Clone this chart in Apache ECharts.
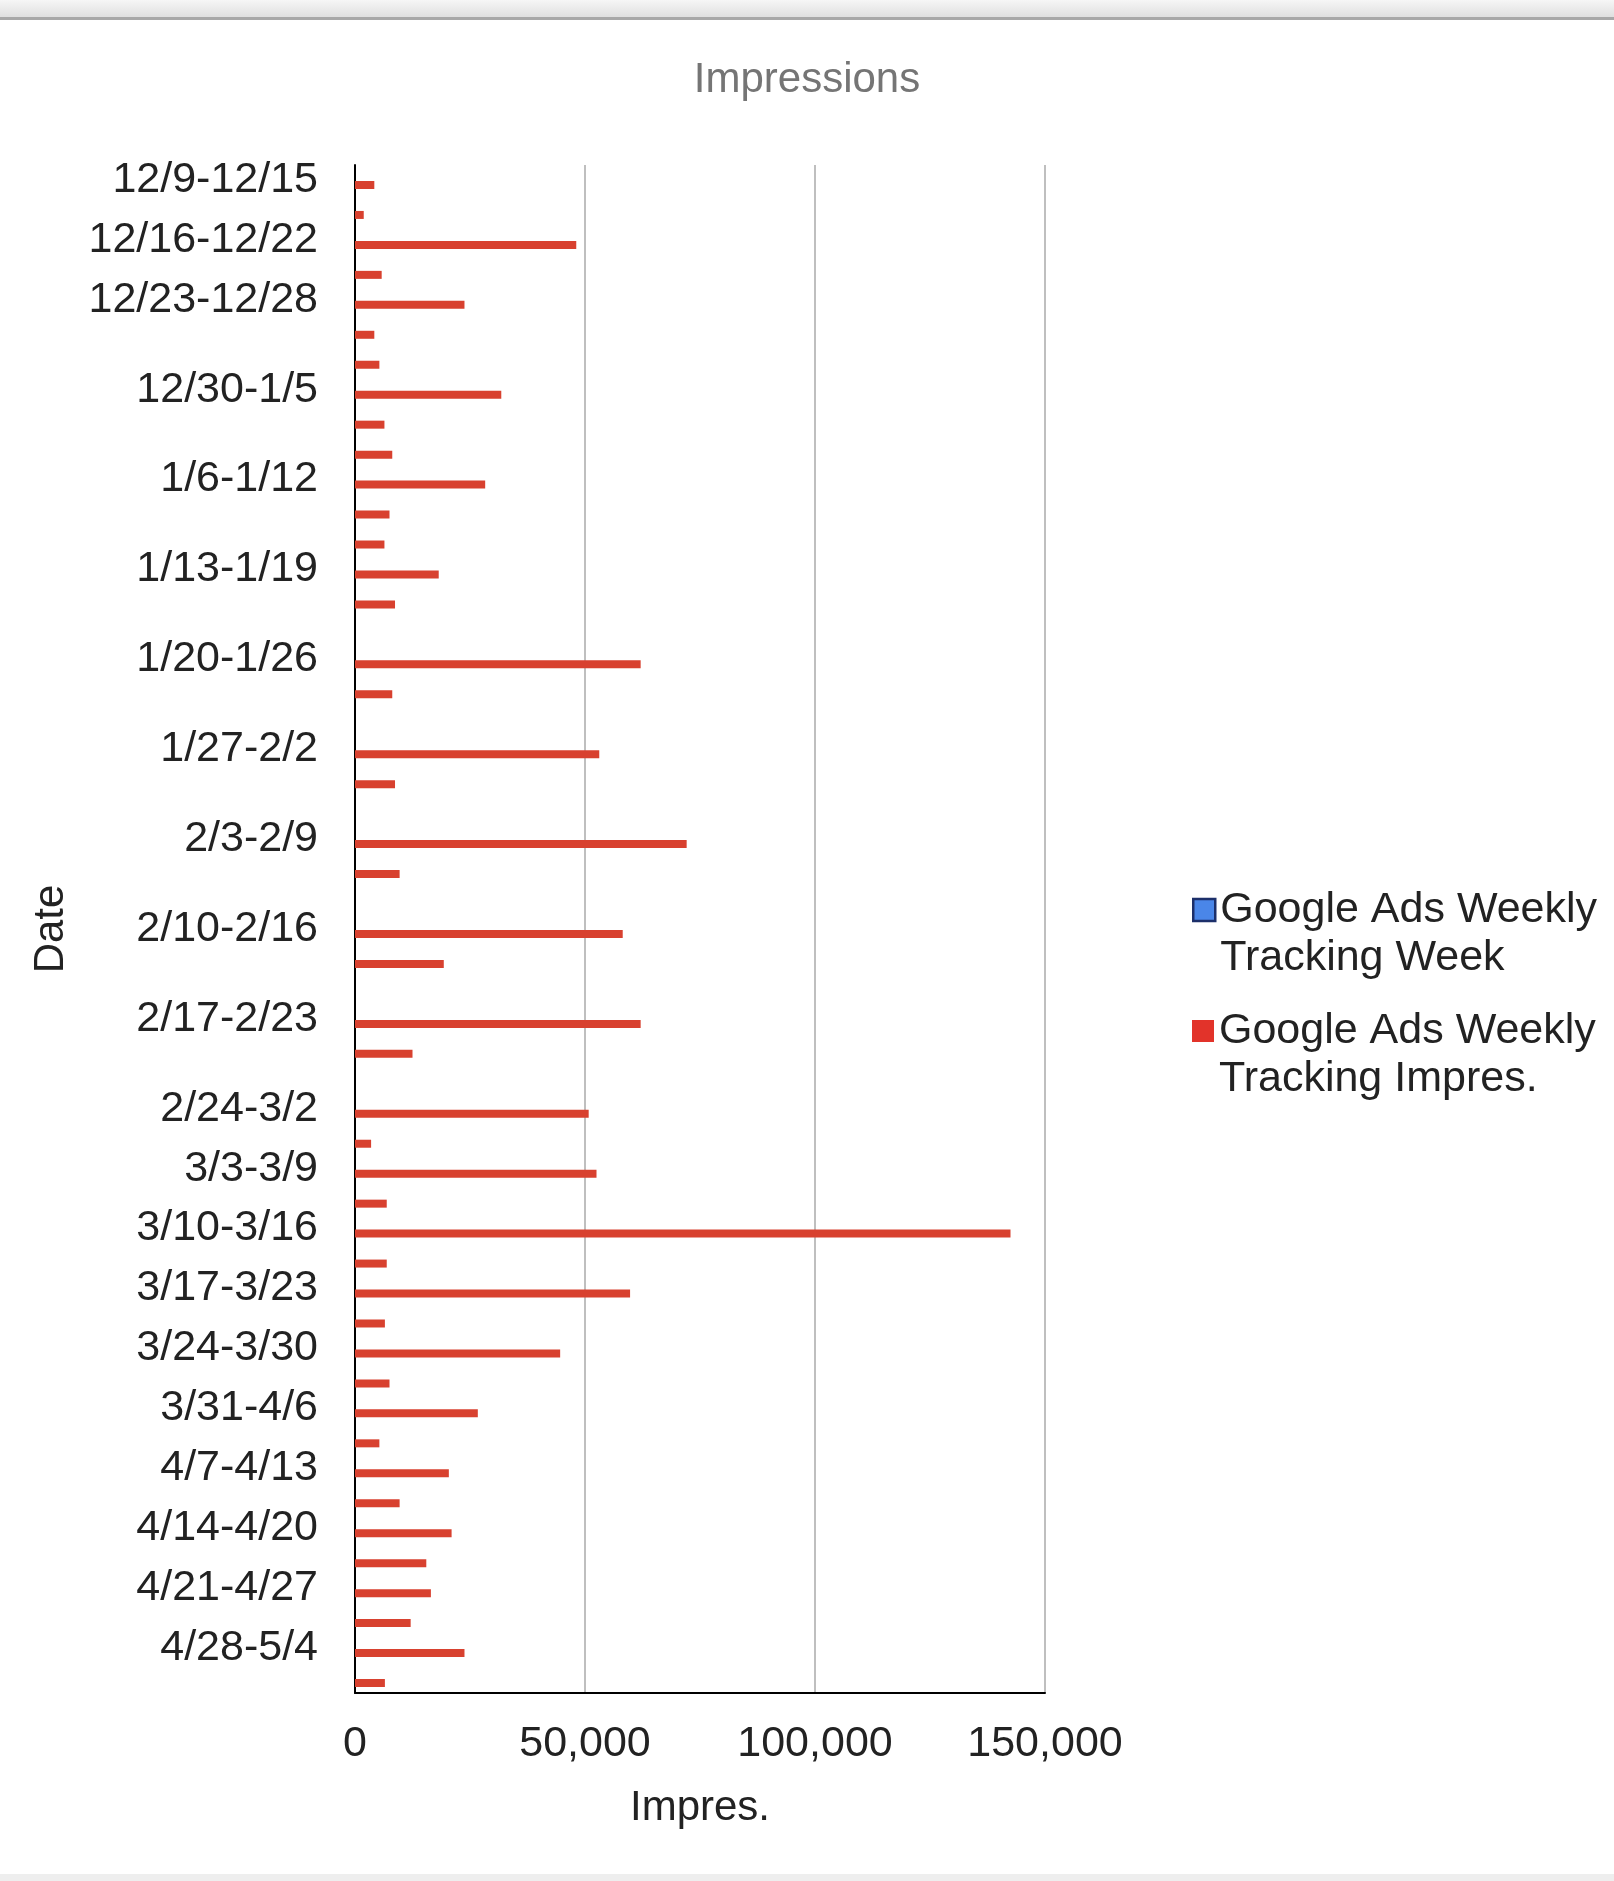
<!DOCTYPE html>
<html>
<head>
<meta charset="utf-8">
<script src="https://cdn.jsdelivr.net/npm/echarts@6/dist/echarts.min.js"></script>
<style>
  html, body { margin: 0; padding: 0; background: #ffffff; }
  #chart { width: 1614px; height: 1881px; }
</style>
</head>
<body>
<div id="chart"></div>
<script>
// ---- data ----
const slotLabels = [
  '12/9-12/15', '', '12/16-12/22', '', '12/23-12/28', '', '', '12/30-1/5', '', '',
  '1/6-1/12', '', '', '1/13-1/19', '', '', '1/20-1/26', '', '', '1/27-2/2',
  '', '', '2/3-2/9', '', '', '2/10-2/16', '', '', '2/17-2/23', '',
  '', '2/24-3/2', '', '3/3-3/9', '', '3/10-3/16', '', '3/17-3/23', '', '3/24-3/30',
  '', '3/31-4/6', '', '4/7-4/13', '', '4/14-4/20', '', '4/21-4/27', '', '4/28-5/4',
  ''
];
const weekValues = slotLabels.map(() => null);
const impresValues = [
  4200, 1900, 48100, 5800, 23800, 4200, 5300, 31800, 6400, 8100,
  28300, 7500, 6400, 18200, 8700, null, 62100, 8100, null, 53100,
  8700, null, 72100, 9700, null, 58200, 19300, null, 62100, 12500,
  null, 50800, 3500, 52500, 6900, 142500, 6900, 59800, 6500, 44600,
  7500, 26700, 5300, 20400, 9700, 21000, 15500, 16500, 12100, 23800,
  6500
];
const xTicks = [0, 50000, 100000, 150000];
const seriesNames = ['Google Ads Weekly Tracking Week', 'Google Ads Weekly Tracking Impres.'];
const legendLines = {
  'Google Ads Weekly Tracking Week': 'Google Ads Weekly\nTracking Week',
  'Google Ads Weekly Tracking Impres.': 'Google Ads Weekly\nTracking Impres.'
};

// ---- style ----
const FONT = '"Liberation Sans", Arial, sans-serif';
const BLUE = '#4a86e8';
const RED = '#d8412f';
const TEXT = '#222222';

const chart = echarts.init(document.getElementById('chart'), null, { renderer: 'canvas' });

function legendFor(name, color, border, center) {
  const LH = 48;
  return {
    data: [{
      name: name, icon: 'rect',
      itemStyle: { color: color, borderColor: border || color, borderWidth: border ? 2.5 : 0 }
    }],
    orient: 'vertical',
    left: 1192,
    top: center - 1.5 * LH,
    padding: 0,
    itemWidth: 22,
    itemHeight: 22,
    selectedMode: false,
    // a leading empty line puts the first text line level with the icon
    formatter: n => '\n' + (legendLines[n] || n),
    textStyle: { fontFamily: FONT, fontSize: 43, lineHeight: LH, color: TEXT }
  };
}

const option = {
  backgroundColor: '#ffffff',
  animation: false,
  title: {
    text: 'Impressions',
    left: 'center',
    top: 54,
    textStyle: { fontFamily: FONT, fontSize: 42, fontWeight: 'normal', color: '#757575' }
  },
  legend: [
    legendFor(seriesNames[0], BLUE, '#1c2f6a', 910),
    legendFor(seriesNames[1], '#e2332a', null, 1031)
  ],
  grid: { left: 355, right: 569, top: 165, bottom: 188, containLabel: false },
  xAxis: {
    type: 'value',
    min: xTicks[0],
    max: xTicks[xTicks.length - 1],
    interval: xTicks[1] - xTicks[0],
    name: 'Impres.',
    nameLocation: 'middle',
    nameGap: 94,
    nameTextStyle: { fontFamily: FONT, fontSize: 42, color: TEXT },
    axisLine: { show: true, lineStyle: { color: '#000000', width: 2 } },
    axisTick: { show: false },
    axisLabel: {
      fontFamily: FONT, fontSize: 43, color: TEXT, margin: 30,
      formatter: v => Number(v).toLocaleString('en-US')
    },
    splitLine: { show: true, lineStyle: { color: '#aaaaaa', width: 1.5 } }
  },
  yAxis: {
    type: 'category',
    inverse: true,
    data: slotLabels,
    name: 'Date',
    nameLocation: 'middle',
    nameGap: 283,
    nameRotate: 90,
    nameTextStyle: { fontFamily: FONT, fontSize: 42, color: TEXT },
    axisLine: { show: true, lineStyle: { color: '#000000', width: 2 } },
    axisTick: { show: false },
    axisLabel: { interval: 0, fontFamily: FONT, fontSize: 43, color: TEXT, margin: 37 },
    splitLine: { show: false }
  },
  series: [
    {
      name: seriesNames[0], type: 'bar', data: weekValues,
      barWidth: 8, barGap: '25%',
      itemStyle: { color: BLUE, borderColor: '#1c2f6a' }
    },
    {
      name: seriesNames[1], type: 'bar', data: impresValues,
      barWidth: 8, barGap: '25%',
      itemStyle: { color: RED }
    }
  ],
  graphic: [
    {
      type: 'rect', left: 0, top: 0, z: 100,
      shape: { width: 1614, height: 18 },
      style: {
        fill: new echarts.graphic.LinearGradient(0, 0, 0, 1, [
          { offset: 0, color: '#f6f6f6' }, { offset: 1, color: '#dedede' }
        ])
      }
    },
    {
      type: 'rect', left: 0, top: 17, z: 100,
      shape: { width: 1614, height: 3 },
      style: { fill: '#a8a8a8' }
    },
    {
      type: 'rect', left: 0, top: 1874, z: 100,
      shape: { width: 1614, height: 7 },
      style: { fill: '#eeeeee' }
    }
  ]
};

chart.setOption(option);
</script>
</body>
</html>
